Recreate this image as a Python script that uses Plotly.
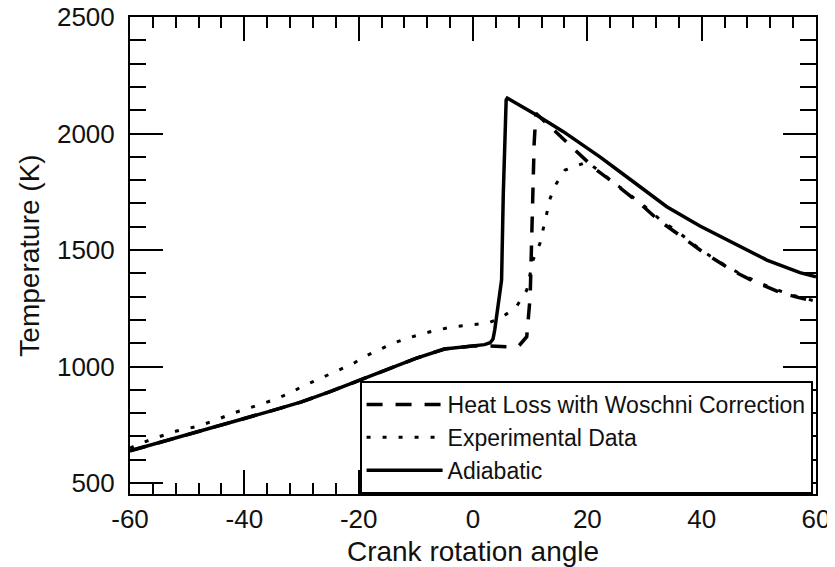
import plotly.graph_objects as go

# Adiabatic (solid)
adiabatic_angle = [-60, -55, -50, -45, -40, -35, -30, -25, -20, -15, -10, -5, 0, 2, 3, 3.5,
                   3.8, 4.2, 5.0, 5.3, 5.8, 6.0, 8.2, 11.1, 15.8, 20, 22.2, 25.7, 28, 33.9,
                   39.7, 45.5, 51.4, 57.2, 60]
adiabatic_temp = [638, 672, 706, 740, 777, 812, 848, 892, 940, 990, 1035, 1075, 1090, 1094, 1102, 1118,
                  1157, 1230, 1371, 1743, 2144, 2152, 2122, 2079, 2008, 1940, 1900, 1836, 1793, 1686,
                  1603, 1530, 1457, 1403, 1385]

# Heat loss with Woschni correction (dashed)
woschni_angle = [-60, -55, -50, -45, -40, -35, -30, -25, -20, -15, -10, -5, 0, 3, 6, 8, 9.4,
                 10.0, 10.3, 10.5, 10.7, 11.0, 13, 15, 17, 18.7, 21.6, 24, 26.9, 29.5, 32.4,
                 34.7, 37.7, 40, 42.9, 45.5, 48.4, 50.8, 53.7, 56.3, 60]
woschni_temp = [638, 672, 706, 740, 777, 812, 848, 892, 940, 990, 1035, 1075, 1088, 1088, 1085, 1088, 1128,
                1300, 1557, 1800, 1958, 2087, 2040, 1995, 1950, 1908, 1843, 1800, 1743, 1693, 1629,
                1590, 1536, 1495, 1448, 1410, 1374, 1348, 1318, 1300, 1278]

# Experimental data (dotted)
exp_angle = [-60, -58, -55, -52, -48, -45, -42, -40, -35, -32, -30, -27, -24, -21, -19, -16, -14,
             -11, -8.7, -6, -3.4, 0, 2.4, 5, 7.6, 9.4, 10.5, 11.7, 12.3, 12.9, 13.5, 14.6, 16.1,
             18.7, 20, 22, 24, 27, 30, 33, 36, 40, 45, 50, 55, 60]
exp_temp = [650, 672, 698, 722, 745, 770, 800, 815, 856, 886, 913, 945, 978, 1012, 1042, 1075, 1100,
            1125, 1142, 1158, 1171, 1180, 1185, 1210, 1257, 1328, 1457, 1528, 1586, 1657, 1722, 1786, 1843,
            1865, 1878, 1840, 1803, 1745, 1688, 1625, 1575, 1498, 1420, 1360, 1312, 1280]

series_names = ["Heat Loss with Woschni Correction", "Experimental Data", "Adiabatic"]

x_tick_values = [-60, -40, -20, 0, 20, 40, 60]
x_tick_labels = ["-60", "-40", "-20", "0", "20", "40", "60"]
y_tick_values = [500, 1000, 1500, 2000, 2500]
y_tick_labels = ["500", "1000", "1500", "2000", "2500"]

FONT = "Liberation Sans, Arial, Helvetica, sans-serif"

fig = go.Figure()
fig.add_trace(go.Scatter(x=woschni_angle, y=woschni_temp, mode="lines", name=series_names[0],
                         line=dict(color="black", width=3.5, dash="16px,13px")))
fig.add_trace(go.Scatter(x=exp_angle, y=exp_temp, mode="lines", name=series_names[1],
                         line=dict(color="black", width=3, dash="4px,12px")))
fig.add_trace(go.Scatter(x=adiabatic_angle, y=adiabatic_temp, mode="lines", name=series_names[2],
                         line=dict(color="black", width=3.5)))

axis_common = dict(showgrid=False, zeroline=False, showline=True, linecolor="black", linewidth=2,
                   mirror="allticks", ticks="inside", tickcolor="black", tickwidth=2,
                   automargin=False, ticklabeloverflow="allow",
                   tickfont=dict(family=FONT, size=26, color="#111"))

fig.update_xaxes(range=[-60, 60], tickvals=x_tick_values, ticktext=x_tick_labels, ticklen=24,
                 minor=dict(dtick=4, tick0=-60, ticklen=11, ticks="inside", tickcolor="black", tickwidth=1.5),
                 title=dict(text="Crank rotation angle", font=dict(family=FONT, size=28, color="#111"),
                            standoff=8),
                 ticklabelstandoff=1, **axis_common)
fig.update_yaxes(range=[453, 2500], tickvals=y_tick_values, ticktext=y_tick_labels, ticklen=33,
                 minor=dict(dtick=100, tick0=500, ticklen=16, ticks="inside", tickcolor="black", tickwidth=1.5),
                 title=dict(text="Temperature (K)", font=dict(family=FONT, size=28, color="#111"),
                            standoff=9),
                 ticklabelstandoff=8, **axis_common)

# The page adds an 8 px body margin, so the figure is offset by it.
fig.update_layout(
    width=827, height=559,
    margin=dict(l=122, r=19, t=9, b=73),
    plot_bgcolor="white", paper_bgcolor="white",
    showlegend=True,
    legend=dict(x=0.995, xanchor="right", y=0.0, yanchor="bottom",
                bgcolor="white", bordercolor="black", borderwidth=2,
                font=dict(family=FONT, size=23, color="#111"), itemwidth=76,
                traceorder="normal"),
)

fig.write_html("out.html")
